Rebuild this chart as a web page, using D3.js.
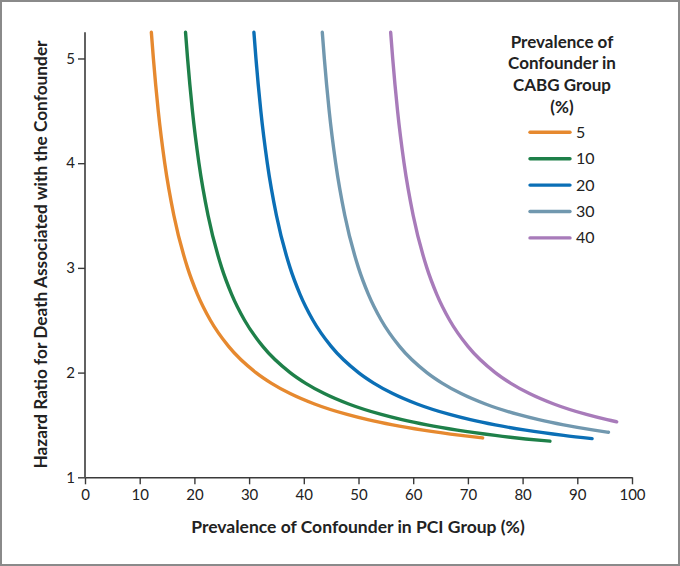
<!DOCTYPE html>
<html><head><meta charset="utf-8">
<script src="https://cdn.jsdelivr.net/npm/d3@7"></script>
<style>html,body{margin:0;padding:0;background:#fff;}svg{display:block;}</style>
</head><body>
<script>
// Prevalence of confounder in CABG group (%) - series
const series = ["5", "10", "20", "30", "40"];
const colors = ["#E6892F", "#1E8049", "#0B6FB6", "#7198AF", "#A87BBA"];
// Points: [prevalence in PCI group (%), hazard ratio]
const s5 = [[12.13,5.25],[12.5,5],[13.39,4.5],[14.58,4],[16.25,3.5],[18.75,3],[20.54,2.75],[22.92,2.5],[26.25,2.25],[31.25,2],[34.03,1.9],[37.5,1.8],[41.96,1.7],[47.92,1.6],[51.7,1.55],[56.25,1.5],[61.81,1.45],[68.75,1.4],[72.7,1.376]];
const s10 = [[18.38,5.25],[18.75,5],[19.64,4.5],[20.83,4],[22.5,3.5],[25,3],[26.79,2.75],[29.17,2.5],[32.5,2.25],[37.5,2],[40.28,1.9],[43.75,1.8],[48.21,1.7],[54.17,1.6],[57.95,1.55],[62.5,1.5],[68.06,1.45],[75,1.4],[83.93,1.35],[85,1.345]];
const s20 = [[30.88,5.25],[31.25,5],[32.14,4.5],[33.33,4],[35,3.5],[37.5,3],[39.29,2.75],[41.67,2.5],[45,2.25],[50,2],[52.78,1.9],[56.25,1.8],[60.71,1.7],[66.67,1.6],[70.45,1.55],[75,1.5],[80.56,1.45],[87.5,1.4],[92.7,1.369]];
const s30 = [[43.38,5.25],[43.75,5],[44.64,4.5],[45.83,4],[47.5,3.5],[50,3],[51.79,2.75],[54.17,2.5],[57.5,2.25],[62.5,2],[65.28,1.9],[68.75,1.8],[73.21,1.7],[79.17,1.6],[82.95,1.55],[87.5,1.5],[93.06,1.45],[95.7,1.43]];
const s40 = [[55.88,5.25],[56.25,5],[57.14,4.5],[58.33,4],[60,3.5],[62.5,3],[64.29,2.75],[66.67,2.5],[70,2.25],[75,2],[77.78,1.9],[81.25,1.8],[85.71,1.7],[91.67,1.6],[95.45,1.55],[97.2,1.53]];
const xTicks = [0,10,20,30,40,50,60,70,80,90,100];
const yTicks = [1,2,3,4,5];
const legendTitle = ["Prevalence of", "Confounder in", "CABG Group", "(%)"];
const xTitle = "Prevalence of Confounder in PCI Group (%)";
const yTitle = "Hazard Ratio for Death Associated with the Confounder";

const allSeries = [s5, s10, s20, s30, s40];
const W = 680, H = 566;
const font = "Lato, 'Open Sans', sans-serif";
const svg = d3.select("body").append("svg").attr("width", W).attr("height", H);
svg.append("rect").attr("x",1).attr("y",1).attr("width",W-2).attr("height",H-2)
  .attr("fill","#fff").attr("stroke","#8a8a8a").attr("stroke-width",2);

const x = d3.scaleLinear().domain([0,100]).range([85,632]);
const y = d3.scaleLinear().domain([1,5.25]).range([477.3,32.3]);

const axisColor = "#3a3a3a";
const gx = svg.append("g").attr("transform",`translate(0,${y(1)})`)
  .call(d3.axisBottom(x).tickValues(xTicks).tickFormat(d3.format("d")).tickSize(7).tickPadding(5).tickSizeOuter(0));
const gy = svg.append("g").attr("transform",`translate(${x(0)},0)`)
  .call(d3.axisLeft(y).tickValues(yTicks).tickFormat(d3.format("d")).tickSize(7).tickPadding(3).tickSizeOuter(0));
[gx, gy].forEach(g => {
  g.select(".domain").attr("stroke", axisColor).attr("stroke-width",1.6);
  g.selectAll(".tick line").attr("stroke", axisColor).attr("stroke-width",1.4);
  g.selectAll(".tick text").attr("fill","#222").attr("font-family",font).attr("font-size",15);
});
gy.select(".domain").attr("d", `M0,${y(1)}V${y(5.25)}`);

const line = d3.line().x(d=>x(d[0])).y(d=>y(d[1])).curve(d3.curveMonotoneX);
allSeries.forEach((s,i) => {
  svg.append("path").datum(s).attr("d", line).attr("fill","none")
    .attr("stroke", colors[i]).attr("stroke-width",3.4).attr("stroke-linecap","round");
});

svg.append("text").attr("x", 358).attr("y", 533)
  .attr("text-anchor","middle").attr("font-family",font).attr("font-weight","bold")
  .attr("font-size",17.5).attr("fill","#222").text(xTitle);
svg.append("text").attr("transform",`translate(47,${(469+40)/2}) rotate(-90)`)
  .attr("text-anchor","middle").attr("font-family",font).attr("font-weight","bold")
  .attr("font-size",17.3).attr("fill","#222").text(yTitle);

const lg = svg.append("g");
legendTitle.forEach((t,i) => {
  lg.append("text").attr("x",562).attr("y",47.5 + i*21.8).attr("text-anchor","middle")
    .attr("font-family",font).attr("font-weight","bold").attr("font-size",17)
    .attr("fill","#222").text(t);
});
series.forEach((s,i) => {
  const yy = 132.3 + i*26.4;
  lg.append("line").attr("x1",530).attr("x2",570).attr("y1",yy).attr("y2",yy)
    .attr("stroke",colors[i]).attr("stroke-width",3.4).attr("stroke-linecap","round");
  lg.append("text").attr("x",576).attr("y",yy+5.5).attr("font-family",font)
    .attr("font-size",16).attr("fill","#222").text(s);
});
</script>
</body></html>
